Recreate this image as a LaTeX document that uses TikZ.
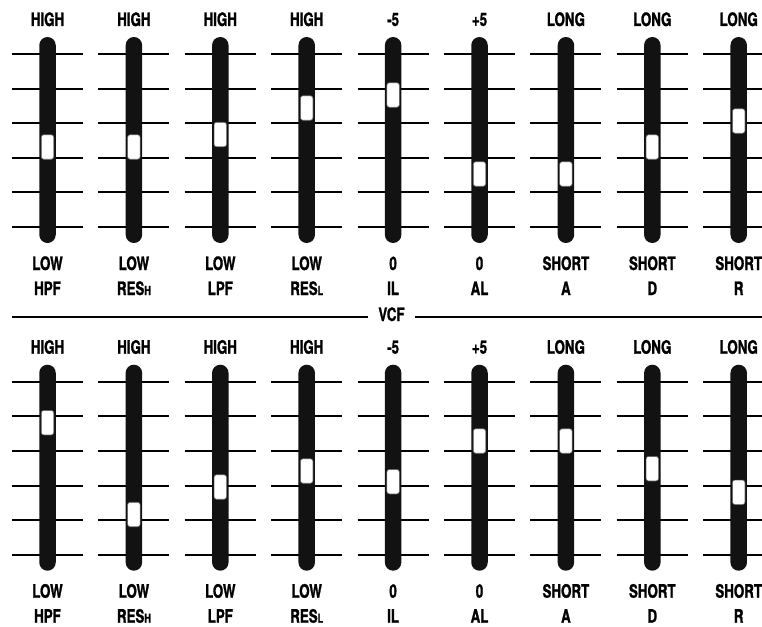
\documentclass[tikz,border=0pt]{standalone}
\usepackage{fontspec}
\setmainfont{TeX Gyre Heros}[FakeStretch=0.72, BoldFeatures={FakeBold=1.2}]
\newcommand\subcap[1]{{\fontsize{12.5}{12.5}\selectfont #1}}
\begin{document}
\begin{tikzpicture}[x=1pt,y=-1pt,
  lbl/.style={font=\bfseries\fontsize{18.5}{18.5}\selectfont, inner sep=0pt, anchor=base},
  tick/.style={line width=2pt, black},
  slot/.style={fill=black!93, rounded corners=8.25pt},
  knob/.style={fill=white, draw=black!60, line width=0.6pt, rounded corners=2.5pt}]
\useasboundingbox (0,0) rectangle (762,626);
% two rows of faders
\foreach \row/\dy in {a/0, b/327.7} {
  \foreach \i/\hi/\lo/\fn in {0/HIGH/LOW/HPF, 1/HIGH/LOW/{RES\subcap{H}}, 2/HIGH/LOW/LPF,
      3/HIGH/LOW/{RES\subcap{L}}, 4/-5/0/IL, 5/+5/0/AL, 6/LONG/SHORT/A, 7/LONG/SHORT/D, 8/LONG/SHORT/R} {
    \pgfmathsetmacro\cx{47.5+86.4*\i}
    \foreach \k in {0,...,5}
      \draw[tick] (\cx-35.5,54+34.6*\k+\dy) -- (\cx+35.5,54+34.6*\k+\dy);
    \fill[slot] (\cx-8.25,37+\dy) rectangle (\cx+8.25,243+\dy);
    \node[lbl] (hi-\row\i) at (\cx,26+\dy) {\hi};
    \node[lbl] (lo-\row\i) at (\cx,270+\dy) {\lo};
    \node[lbl] (fn-\row\i) at (\cx,295+\dy) {\fn};
  }
}
% knob positions
\foreach \i/\ya/\yb in {0/147/422.7, 1/147/514.5, 2/134.5/487, 3/108/471, 4/95/481.7,
    5/174/441, 6/174/441, 7/147/468.7, 8/121/492.3} {
  \pgfmathsetmacro\cx{47.5+86.4*\i}
  \draw[knob] (\cx-6.25,\ya-12.25) rectangle (\cx+6.25,\ya+12.25);
  \draw[knob] (\cx-6.25,\yb-12.25) rectangle (\cx+6.25,\yb+12.25);
}
% section line
\node[lbl] (vcf) at (391.5,321) {VCF};
\coordinate (lineL) at (12,317);
\coordinate (lineR) at (762,317);
\draw[line width=2pt] (lineL) -- ([xshift=-10pt]vcf.west |- lineL);
\draw[line width=2pt] ([xshift=10pt]vcf.east |- lineR) -- (lineR);
\end{tikzpicture}
\end{document}
